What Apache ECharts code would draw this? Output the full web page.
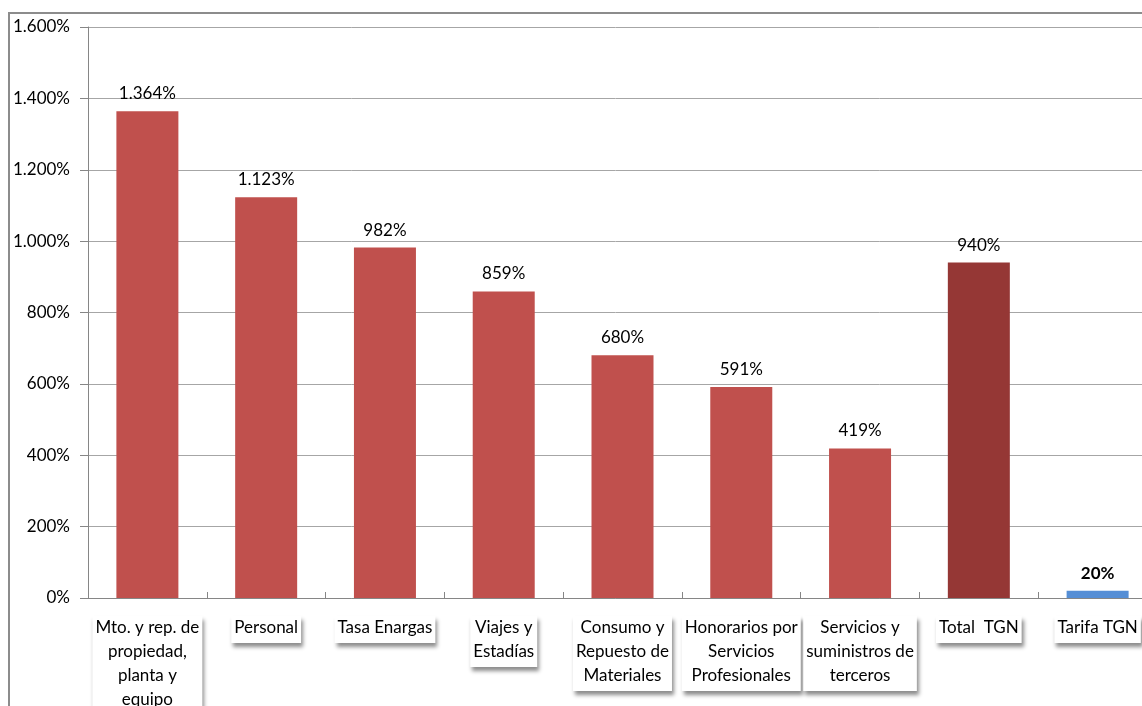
<!DOCTYPE html>
<html>
<head>
<meta charset="utf-8">
<script src="https://cdn.jsdelivr.net/npm/echarts@6/dist/echarts.min.js"></script>
<style>
  html, body { margin: 0; padding: 0; background: #fff; overflow: hidden; width: 1142px; height: 706px; }
  #frame {
    position: absolute; left: 8px; top: 12px; width: 1132px; height: 692px;
    border-left: 2px solid #8c8c8c; border-top: 2px solid #8c8c8c;
    overflow: hidden;
  }
  #chart { position: absolute; left: -10px; top: -14px; width: 1142px; height: 706px; }
</style>
</head>
<body>
<div id="frame"><div id="chart"></div></div>
<script>
// categorias del eje x
const categorias = [
  'Mto. y rep. de\npropiedad,\nplanta y\nequipo',
  'Personal',
  'Tasa Enargas',
  'Viajes y\nEstadías',
  'Consumo y\nRepuesto de\nMateriales',
  'Honorarios por\nServicios\nProfesionales',
  'Servicios y\nsuministros de\nterceros',
  'Total  TGN',
  'Tarifa TGN'
];
// variacion en %
const valores = [1364, 1123, 982, 859, 680, 591, 419, 940, 20];
// ticks del eje y
const ticksY = [0, 200, 400, 600, 800, 1000, 1200, 1400, 1600];

// formato 1.364% (punto de miles)
function fmt(v) {
  return String(Math.round(v)).replace(/\B(?=(\d{3})+(?!\d))/g, '.') + '%';
}

const chart = echarts.init(document.getElementById('chart'), null, { width: 1142, height: 706 });
const option = {
  animation: false,
  textStyle: { fontFamily: 'Lato, "Open Sans", sans-serif' },
  grid: {
    left: 88, top: 27, bottom: 108, right: -15,
    containLabel: false,
    outerBoundsMode: 'none'
  },
  xAxis: {
    type: 'category',
    data: categorias,
    axisLine: { lineStyle: { color: '#868686', width: 1 } },
    axisTick: { show: true, inside: true, length: 6, lineStyle: { color: '#868686' } },
    axisLabel: {
      interval: 0,
      color: '#000',
      fontSize: 17,
      lineHeight: 24,
      margin: 18,
      backgroundColor: '#fff',
      padding: [0, 3, 3, 3],
      shadowColor: 'rgba(0,0,0,0.45)',
      shadowBlur: 4,
      shadowOffsetX: 2,
      shadowOffsetY: 4
    }
  },
  yAxis: {
    type: 'value',
    min: ticksY[0],
    max: ticksY[ticksY.length - 1],
    interval: ticksY[1] - ticksY[0],
    axisLine: { show: true, lineStyle: { color: '#868686' } },
    axisTick: { show: true, length: 8, lineStyle: { color: '#868686' } },
    splitLine: { lineStyle: { color: '#a6a6a6', width: 1 } },
    axisLabel: { color: '#000', fontSize: 17, margin: 18, formatter: fmt }
  },
  series: [{
    type: 'bar',
    barWidth: 62,
    data: valores.map((v, i) => {
      const cat = categorias[i];
      const item = { value: v };
      if (cat === 'Total  TGN') item.itemStyle = { color: '#953735' };
      else if (cat === 'Tarifa TGN') {
        item.itemStyle = { color: '#558ED5' };
        item.label = { fontWeight: 'bold' };
      }
      return item;
    }),
    itemStyle: { color: '#C0504D' },
    label: {
      show: true,
      position: 'top',
      distance: 9,
      color: '#000',
      fontSize: 17,
      formatter: p => fmt(p.value)
    }
  }]
};
chart.setOption(option);
</script>
</body>
</html>
